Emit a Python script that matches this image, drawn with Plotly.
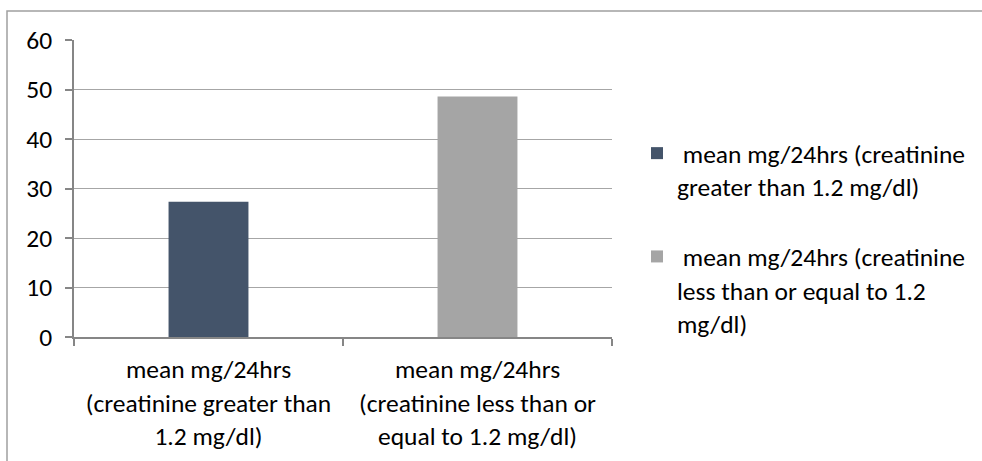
import plotly.graph_objects as go

# Mean urinary output by creatinine group
categories = [
    "mean mg/24hrs (creatinine greater than 1.2 mg/dl)",
    "mean mg/24hrs (creatinine less than or equal to 1.2 mg/dl)",
]
values = [27.3, 48.6]
tick_labels = [
    "mean mg/24hrs<br>(creatinine greater than<br>1.2 mg/dl)",
    "mean mg/24hrs<br>(creatinine less than or<br>equal to 1.2 mg/dl)",
]
legend_names = [
    "\u00a0mean mg/24hrs (creatinine<br>greater than 1.2 mg/dl)",
    "\u00a0mean mg/24hrs (creatinine<br>less than or equal to 1.2<br>mg/dl)",
]
bar_colors = ["#44546A", "#A5A5A5"]
y_ticks = [0, 10, 20, 30, 40, 50, 60]

FONT = "Calibri, Carlito, Lato, sans-serif"
FONT_SIZE = 25.5
AXIS_GRAY = "#868686"
GRID_GRAY = "#A6A6A6"

fig = go.Figure()
for cat, val, name, color in zip(categories, values, legend_names, bar_colors):
    fig.add_trace(go.Bar(
        x=[cat], y=[val], name=name,
        marker=dict(color=color, line=dict(width=0)),
        width=0.297, legendgroup=name,
    ))

W, H = 982, 461
left, right, top, bottom = 74, 612, 39.7, 337.5

fig.update_layout(
    width=W, height=H,
    margin=dict(l=left, r=W - right, t=top, b=H - bottom, pad=0, autoexpand=False),
    paper_bgcolor="white", plot_bgcolor="white",
    barmode="overlay",
    font=dict(family=FONT, size=FONT_SIZE, color="#000000"),
    showlegend=True,
    legend=dict(
        x=(637 - left) / (right - left), xanchor="left",
        y=1 - (130 - top) / (bottom - top), yanchor="top",
        valign="top", tracegroupgap=34,
        font=dict(family=FONT, size=FONT_SIZE, color="#000000"),
        bgcolor="rgba(0,0,0,0)",
    ),
    xaxis=dict(
        type="category", automargin=False,
        tickmode="array", tickvals=categories, ticktext=tick_labels,
        tickson="boundaries",
        showline=True, linecolor=AXIS_GRAY, linewidth=1.5,
        ticks="outside", ticklen=7, tickcolor=AXIS_GRAY, tickwidth=1.5,
        showgrid=False, range=[-0.5, 1.5], ticklabelstandoff=9,
    ),
    yaxis=dict(
        range=[0, 60], tickmode="array", tickvals=y_ticks, automargin=False,
        showline=True, linecolor=AXIS_GRAY, linewidth=1.5,
        ticks="outside", ticklen=7, tickcolor=AXIS_GRAY, tickwidth=1.5,
        showgrid=True, gridcolor=GRID_GRAY, gridwidth=1,
        zeroline=False, ticklabelstandoff=8,
    ),
    shapes=[dict(
        type="rect", xref="paper", yref="paper",
        x0=(7 - left) / (right - left), x1=3,
        y0=-1, y1=1 + (top - 10.5) / (bottom - top),
        line=dict(color="#A0A0A0", width=1.5), fillcolor="rgba(0,0,0,0)",
        layer="below",
    )],
)

fig.write_html("out.html")
